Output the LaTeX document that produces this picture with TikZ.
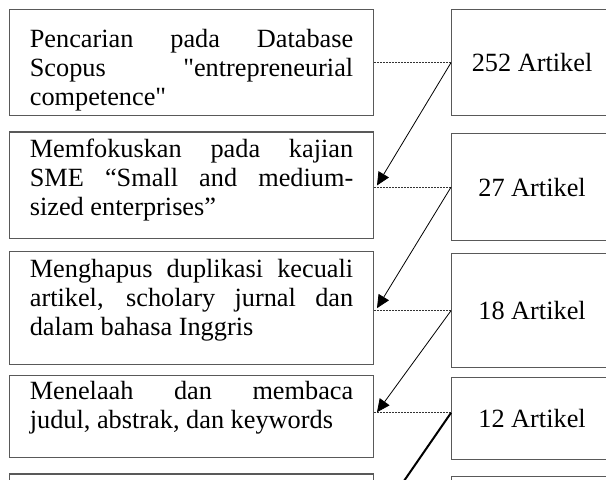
\documentclass[tikz,border=0pt]{standalone}
\usepackage{fontspec}
\setmainfont{Liberation Serif}[Ligatures=TeXOff]
\usetikzlibrary{arrows.meta}
\begin{document}
\begin{tikzpicture}[x=0.5pt,y=-0.5pt,
  stage/.style={draw=black!65, line width=0.55pt, anchor=north west, inner xsep=10pt, inner ysep=0pt,
    text width=161.7pt, align=justify, font=\fontsize{13.15}{14.65}\selectfont},
  count/.style={draw=black!65, line width=0.55pt, anchor=north west, inner sep=0pt,
    minimum width=80.5pt, font=\fontsize{13.15}{14.65}\selectfont},
  link/.style={draw=black!80, line width=0.5pt, dash pattern=on 1pt off 0.5pt},
  flow/.style={draw, line width=0.4pt, -{Triangle[length=6.5pt,width=6pt]}}]
\useasboundingbox (0,0) rectangle (606,480);
\clip (0,0) rectangle (606,480);

% langkah seleksi
\node[stage, text height=18.7pt, text depth=34.15pt] (L1) at (9.3,9.3)
  {Pencarian pada Database\linebreak Scopus "entrepreneurial\linebreak competence"};
\node[stage, text height=12.6pt, text depth=40.8pt] (L2) at (9.3,131.5)
  {Memfokuskan pada kajian\linebreak SME “Small and medium-\linebreak sized enterprises”};
\node[stage, text height=12.7pt, text depth=43.65pt] (L3) at (9.3,251.3)
  {Menghapus duplikasi kecuali\linebreak artikel, scholary jurnal dan\linebreak dalam bahasa Inggris};
\node[stage, text height=12pt, text depth=29pt] (L4) at (9.3,375)
  {Menelaah dan membaca\linebreak judul, abstrak, dan keywords};
\node[stage, text height=23pt, text depth=23pt] (L5) at (9.3,473.5) {};

% jumlah artikel
\node[count, minimum height=52.85pt] (R1) at (451,9.3) {252 Artikel};
\node[count, minimum height=53.35pt] (R2) at (451,133.3) {27 Artikel};
\node[count, minimum height=56.85pt] (R3) at (451,253.3) {18 Artikel};
\node[count, minimum height=41pt] (R4) at (451,377) {12 Artikel};
\node[count, minimum height=46pt] (R5) at (451,476) {};

\coordinate (d4) at ([yshift=2.85pt]R4.west);

\path[link] (R1.west -| L1.east) -- (R1.west);
\path[link] (R2.west -| L2.east) -- (R2.west);
\path[link] (R3.west -| L3.east) -- (R3.west);
\path[link] (d4 -| L4.east) -- (d4);

\path[flow] (R1.west) -- ([xshift=1.6pt]L2.east);
\path[flow] (R2.west) -- ([xshift=1.6pt]L3.east);
\path[flow] (R3.west) -- ([xshift=1.6pt,yshift=2.15pt]L4.east);
\path[flow, line width=1pt] (d4) -- ([xshift=1.6pt]L5.east);
\end{tikzpicture}
\end{document}
